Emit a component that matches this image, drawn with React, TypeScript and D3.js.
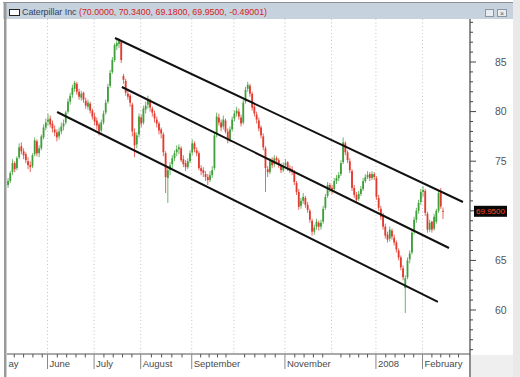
import React from "react";
import * as d3 from "d3";

// Daily OHLC, Caterpillar Inc, May 7 2007 .. Feb 14 2008 (trading-day index 0..196)
const openVals = [
  72.6, 73.0, 73.9, 74.8, 74.3, 75.4, 76.5, 76.0, 75.7, 75.0,
  74.6, 74.5, 75.7, 77.0, 75.8, 76.3, 77.4, 78.4, 79.0, 79.3,
  78.8, 78.2, 77.9, 77.5, 78.0, 78.5, 78.9, 80.0, 81.0, 81.7,
  82.3, 82.8, 82.0, 81.4, 81.9, 81.1, 80.5, 80.8, 80.1, 79.5,
  79.1, 78.7, 78.1, 78.9, 79.9, 81.0, 82.6, 84.0, 85.2, 86.6,
  86.8, 87.0, 83.6, 83.1, 81.8, 81.6, 80.7, 77.9, 76.7, 77.7,
  79.4, 78.9, 80.2, 80.7, 81.1, 80.3, 79.8, 79.2, 78.8, 78.2,
  77.7, 75.8, 73.3, 74.1, 74.7, 75.3, 75.9, 76.2, 76.3, 75.2,
  74.8, 74.4, 75.0, 75.9, 76.8, 76.1, 75.8, 74.3, 74.1, 73.7,
  73.4, 73.1, 73.6, 74.3, 77.7, 79.4, 78.9, 78.5, 79.1, 78.0,
  77.2, 78.2, 79.3, 79.8, 80.0, 79.4, 78.9, 81.0, 82.3, 82.6,
  81.8, 80.5, 79.7, 79.1, 78.4, 77.5, 76.3, 74.2, 73.9, 75.0,
  74.7, 75.3, 75.1, 74.5, 74.1, 74.6, 74.9, 74.3, 74.2, 73.9,
  72.8, 71.9, 70.5, 71.0, 71.3, 70.6, 70.0, 69.0, 67.9, 68.4,
  68.8, 68.4, 68.9, 70.3, 71.5, 72.6, 72.3, 72.2, 73.0, 73.3,
  73.7, 74.9, 76.8, 75.9, 75.0, 74.0, 72.3, 71.6, 71.2, 71.7,
  72.2, 73.0, 73.4, 73.7, 73.3, 73.7, 73.3, 71.3, 70.2, 69.5,
  68.4, 67.6, 67.2, 68.0, 67.3, 66.8, 66.0, 65.3, 64.2, 62.2,
  63.3, 65.1, 65.8, 67.9, 69.1, 70.0, 70.9, 71.9, 72.0, 69.7,
  68.1, 68.9, 68.2, 68.9, 70.0, 71.9, 70.0,
];
const highVals = [
  73.3, 74.0, 75.2, 75.0, 75.5, 76.8, 76.9, 76.3, 75.9, 75.4,
  75.0, 75.8, 77.4, 77.2, 76.6, 77.7, 78.7, 79.3, 79.8, 79.6,
  79.1, 78.6, 78.2, 78.4, 78.9, 79.2, 80.1, 81.3, 81.9, 82.7,
  83.1, 83.0, 82.3, 82.1, 82.0, 81.4, 81.2, 81.0, 80.3, 79.9,
  79.4, 78.9, 79.2, 80.1, 81.2, 82.8, 84.2, 85.5, 86.9, 87.3,
  87.4, 87.1, 83.8, 83.3, 82.3, 81.8, 80.9, 78.3, 77.9, 79.8,
  79.7, 80.6, 81.0, 81.6, 81.3, 80.5, 80.1, 79.5, 79.0, 78.4,
  77.9, 76.0, 74.4, 74.9, 75.6, 76.1, 76.6, 76.7, 76.5, 75.6,
  75.1, 75.3, 76.1, 77.2, 77.0, 76.4, 76.0, 74.6, 74.4, 74.0,
  73.7, 74.0, 74.5, 77.9, 79.9, 79.8, 79.2, 79.6, 79.3, 78.3,
  78.5, 79.5, 80.1, 80.5, 80.3, 79.7, 81.2, 82.5, 83.0, 82.8,
  82.0, 80.7, 80.0, 79.4, 78.6, 77.8, 76.5, 74.5, 75.3, 75.4,
  75.6, 75.5, 75.3, 74.8, 74.9, 75.2, 75.0, 74.6, 74.5, 74.1,
  73.0, 72.2, 71.3, 71.8, 71.5, 70.9, 70.2, 69.2, 68.6, 69.2,
  69.0, 69.1, 70.5, 71.7, 72.9, 72.8, 72.6, 73.3, 73.6, 73.9,
  75.1, 77.4, 77.0, 76.1, 75.3, 74.2, 72.6, 71.9, 72.0, 72.5,
  73.3, 73.7, 74.0, 73.9, 74.0, 73.9, 73.5, 71.6, 70.5, 69.8,
  68.7, 67.9, 68.4, 68.2, 67.6, 67.0, 66.2, 65.5, 64.5, 63.5,
  65.3, 66.0, 68.1, 69.4, 70.3, 71.1, 72.2, 72.5, 72.2, 69.9,
  69.1, 69.0, 69.7, 70.2, 72.0, 72.3, 70.34,
];
const lowVals = [
  72.3, 72.8, 73.6, 73.9, 74.1, 75.2, 75.7, 75.2, 74.8, 74.2,
  73.9, 74.3, 75.5, 75.5, 75.4, 76.1, 77.2, 78.1, 78.6, 78.4,
  77.9, 77.5, 77.0, 77.2, 77.7, 78.1, 78.7, 79.8, 80.7, 81.4,
  82.0, 81.7, 81.2, 81.1, 80.9, 80.3, 80.2, 79.8, 79.2, 78.6,
  78.2, 77.6, 77.9, 78.7, 79.7, 80.8, 82.4, 83.8, 85.0, 86.2,
  86.4, 84.9, 82.8, 81.6, 81.2, 80.5, 77.5, 75.4, 76.3, 77.4,
  78.4, 78.7, 79.8, 80.3, 80.0, 79.5, 78.9, 78.4, 77.7, 77.3,
  75.5, 71.8, 70.8, 73.6, 74.3, 75.0, 75.5, 75.7, 74.9, 74.4,
  74.0, 74.2, 74.8, 75.6, 75.9, 75.5, 74.1, 73.6, 73.4, 73.0,
  72.6, 72.9, 73.3, 74.1, 77.4, 78.6, 78.0, 78.2, 77.8, 76.8,
  76.9, 78.0, 79.0, 79.5, 79.2, 78.5, 78.7, 80.8, 82.0, 81.5,
  80.1, 79.5, 78.8, 78.0, 77.3, 76.1, 71.9, 73.4, 73.7, 74.3,
  74.4, 74.7, 74.3, 73.8, 73.9, 74.3, 74.0, 73.8, 73.6, 72.6,
  71.6, 70.1, 70.2, 70.7, 70.3, 69.8, 68.8, 67.5, 67.6, 68.1,
  68.0, 68.1, 68.7, 70.1, 71.3, 71.9, 71.7, 72.0, 72.7, 73.0,
  73.5, 74.7, 75.6, 74.8, 73.8, 72.0, 71.3, 70.8, 71.0, 71.5,
  72.0, 72.8, 73.2, 73.0, 73.1, 73.1, 71.1, 70.0, 69.1, 68.1,
  67.2, 66.8, 66.9, 67.1, 66.5, 65.8, 65.0, 64.0, 63.0, 59.7,
  63.1, 64.7, 65.6, 67.6, 68.8, 69.7, 70.6, 71.4, 69.5, 67.8,
  67.9, 67.8, 68.0, 68.7, 69.8, 70.2, 69.18,
];
const closeVals = [
  73.0, 73.8, 74.8, 74.2, 75.3, 76.4, 76.0, 75.6, 75.1, 74.6,
  74.4, 75.6, 77.1, 75.8, 76.3, 77.5, 78.4, 78.9, 79.2, 78.7,
  78.3, 77.9, 77.4, 78.0, 78.5, 78.8, 79.9, 81.0, 81.6, 82.4,
  82.9, 82.0, 81.5, 81.8, 81.2, 80.6, 80.9, 80.1, 79.5, 79.0,
  78.6, 78.0, 78.9, 79.8, 80.9, 82.5, 83.9, 85.2, 86.7, 86.9,
  87.1, 85.2, 83.2, 81.9, 81.5, 80.9, 78.0, 76.6, 77.6, 79.5,
  78.8, 80.3, 80.6, 81.2, 80.4, 79.9, 79.3, 78.8, 78.1, 77.8,
  75.9, 73.4, 74.1, 74.6, 75.3, 75.8, 76.2, 76.4, 75.1, 74.7,
  74.4, 75.0, 75.8, 76.8, 76.2, 75.8, 74.3, 74.0, 73.8, 73.4,
  73.1, 73.6, 74.1, 77.6, 79.5, 78.9, 78.4, 79.2, 78.0, 77.1,
  78.2, 79.2, 79.8, 80.1, 79.5, 78.8, 80.9, 82.2, 82.7, 81.8,
  80.4, 79.8, 79.2, 78.3, 77.6, 76.4, 74.3, 73.9, 75.0, 74.6,
  75.3, 75.1, 74.6, 74.1, 74.5, 74.8, 74.3, 74.1, 74.0, 72.9,
  71.9, 70.4, 71.0, 71.4, 70.6, 70.1, 69.1, 67.9, 68.3, 68.9,
  68.4, 68.8, 70.2, 71.4, 72.6, 72.3, 72.1, 73.0, 73.3, 73.6,
  74.8, 76.9, 75.9, 75.1, 74.1, 72.3, 71.6, 71.1, 71.7, 72.2,
  73.0, 73.4, 73.6, 73.3, 73.7, 73.4, 71.4, 70.3, 69.4, 68.4,
  67.5, 67.1, 68.1, 67.4, 66.8, 66.1, 65.3, 64.3, 63.3, 63.2,
  65.0, 65.7, 67.8, 69.1, 70.0, 70.8, 71.9, 72.1, 69.8, 68.1,
  68.8, 68.1, 69.4, 70.0, 71.8, 70.44, 69.95,
];
const lastChange = "-0.49001";
const symbolName = "Caterpillar Inc";

// Month labels (trading-day index of the first day of each month)
const monthLabels = ["May", "June", "July", "August", "September", "November", "2008", "February"];
const monthLabelIdx = [-4, 18, 39, 60, 83, 125, 166, 187];
const gridMonthIdx = [18, 39, 60, 83, 102, 125, 146, 166, 187, 207];
const priceLabels = [60, 65, 75, 80, 85];

// Trend channel lines: [startIdx, startPrice, endIdx, endPrice]
const trendStartIdx = [48.2, 51.3, 22.1];
const trendStartVal = [87.42, 82.48, 79.96];
const trendEndIdx = [205.0, 198.7, 193.7];
const trendEndVal = [70.89, 66.25, 60.81];

export default function App() {
  const W = 520, H = 377;
  const plotLeft = 7, plotRight = 470, plotTop = 19, plotBottom = 354;
  const x = d3.scaleLinear().domain([0, 196]).range([8.06, 443.0]);
  const y = d3.scaleLinear().domain([60, 85]).range([310, 62]);
  const n = closeVals.length;
  const idx = d3.range(n);
  const green = "#3f9f3a";
  const red = "#e23a2e";
  const bodyW = 1.8;

  const xMinor: number[] = [];
  for (let m = 0; m < gridMonthIdx.length - 1; m++) {
    const s = gridMonthIdx[m], e = gridMonthIdx[m + 1];
    for (let k = 1; k < 5; k++) xMinor.push(s + ((e - s) * k) / 5);
  }
  for (let k = 1; k < 5; k++) xMinor.push(18 - (21 * k) / 5 + 1.6);

  const yMinor = d3.range(56, 90, 1);
  const lastC = closeVals[n - 1];
  const title = `(${openVals[n - 1].toFixed(4)}, ${highVals[n - 1].toFixed(4)}, ${lowVals[n - 1].toFixed(4)}, ${lastC.toFixed(4)}, ${lastChange})`;
  const font = "'Liberation Sans', Arial, sans-serif";

  return (
    <svg width={W} height={H} style={{ position: "absolute", left: 0, top: 0, background: "#fff" }} fontFamily={font}>
      <defs>
        <clipPath id="plotClip">
          <rect x={plotLeft} y={plotTop} width={plotRight - plotLeft} height={plotBottom - plotTop} />
        </clipPath>
        <clipPath id="axisClip">
          <rect x={8.5} y={plotBottom} width={plotRight - 8.5} height={H - plotBottom} />
        </clipPath>
      </defs>
      <rect x={0} y={0} width={W} height={H} fill="#fff" />
      <rect x={513} y={0} width={7} height={H} fill="#e9e9e9" />
      <rect x={471} y={355} width={42} height={22} fill="#efefef" />
      {/* title bar */}
      <rect x={3} y={2} width={510} height={17} fill="#c6d2de" />
      <line x1={3} x2={513} y1={2.5} y2={2.5} stroke="#8a8f96" />
      <rect x={9.5} y={9.5} width={10} height={6} fill="#fff" stroke="#222" />
      <text x={22} y={15} fontSize={9.2} textLength={245} lengthAdjust="spacingAndGlyphs">
        <tspan fill="#2e3f5e">{symbolName} </tspan>
        <tspan fill="#d8201c">{title}</tspan>
      </text>
      <rect x={485.5} y={9.5} width={8} height={7} fill="#e8ecf0" stroke="#8d96a0" />
      <rect x={497.5} y={9.5} width={9} height={7} fill="#e8ecf0" stroke="#8d96a0" />
      <text x={502} y={15.5} fontSize={7} textAnchor="middle" fill="#555">×</text>
      <rect x={4} y={2} width={2.5} height={H} fill="#9a9a9a" />

      <g clipPath="url(#plotClip)">
        {gridMonthIdx.slice(0, -1).map((m, i) => (
          <line key={i} x1={x(m) - 0.5} x2={x(m) - 0.5} y1={plotTop} y2={plotBottom} stroke="#c4c4c4" strokeDasharray="1,2.5" />
        ))}
        {idx.map((i) => {
          const o = openVals[i], c = closeVals[i];
          const col = c >= o ? green : red;
          const cx = x(i);
          const top = y(Math.max(o, c));
          const bh = Math.max(1, y(Math.min(o, c)) - top);
          return (
            <g key={i}>
              <line x1={cx} x2={cx} y1={y(highVals[i])} y2={y(lowVals[i])} stroke={col} strokeWidth={0.9} opacity={0.85} />
              <rect x={cx - bodyW / 2} y={top} width={bodyW} height={bh} fill={col} />
            </g>
          );
        })}
        {trendStartIdx.map((s, i) => (
          <line key={i} x1={x(s)} y1={y(trendStartVal[i])} x2={x(trendEndIdx[i])} y2={y(trendEndVal[i])} stroke="#111" strokeWidth={2} />
        ))}
      </g>
      {trendStartIdx.map((s, i) => (
        x(trendEndIdx[i]) > plotRight ? (
          <line key={"e" + i} x1={plotRight} y1={y(trendStartVal[i] + (trendEndVal[i] - trendStartVal[i]) * (x.invert(plotRight) - s) / (trendEndIdx[i] - s))} x2={x(trendEndIdx[i])} y2={y(trendEndVal[i])} stroke="#111" strokeWidth={2} />
        ) : null
      ))}

      <line x1={plotLeft} x2={plotRight} y1={plotBottom} y2={plotBottom} stroke="#555" />
      {xMinor.map((t, i) => (
        x(t) > plotLeft && x(t) < plotRight ? (
          <line key={i} x1={x(t)} x2={x(t)} y1={plotBottom} y2={plotBottom + 3.5} stroke="#555" />
        ) : null
      ))}
      <g clipPath="url(#axisClip)">
        {monthLabels.map((lab, i) => {
          const mx = x(monthLabelIdx[i]) - 0.5;
          return (
            <g key={lab}>
              <line x1={mx} x2={mx} y1={plotBottom} y2={plotBottom + 15} stroke="#888" />
              <text x={mx + 2} y={plotBottom + 13} fontSize={9.5} fill="#4a4a4a">{lab}</text>
            </g>
          );
        })}
      </g>

      <line x1={plotRight} x2={plotRight} y1={plotTop} y2={H} stroke="#444" strokeWidth={1.2} />
      {yMinor.map((v) => (
        y(v) > plotTop && y(v) < plotBottom ? (
          <line key={v} x1={plotRight} x2={plotRight + (v % 5 === 0 ? 6 : 3)} y1={y(v)} y2={y(v)} stroke="#444" />
        ) : null
      ))}
      {priceLabels.map((v) => (
        <text key={v} x={495} y={y(v)} dy="0.35em" fontSize={10.5} fill="#555">{v}</text>
      ))}
      <rect x={474} y={y(lastC) - 5.5} width={33} height={11} fill="#080808" />
      <text x={490.5} y={y(lastC)} dy="0.35em" fontSize={8} textAnchor="middle" fill="#ff4a2a">{lastC.toFixed(4)}</text>
    </svg>
  );
}
